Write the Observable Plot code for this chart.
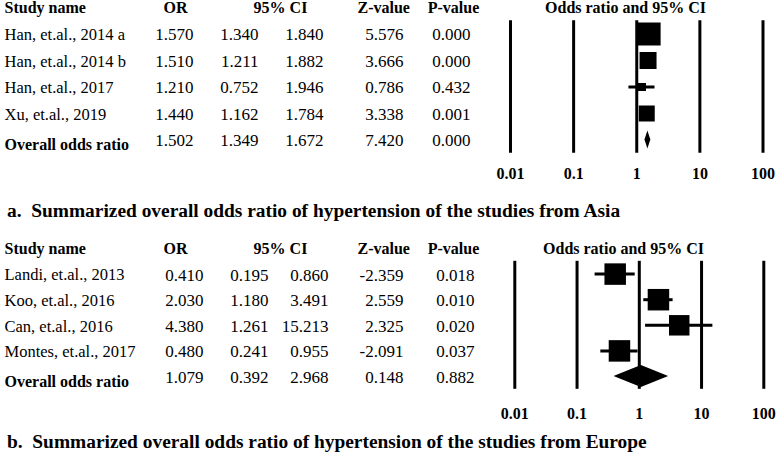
<!DOCTYPE html>
<html><head><meta charset="utf-8">
<script src="https://cdn.jsdelivr.net/npm/d3@7"></script>
<script src="https://cdn.jsdelivr.net/npm/@observablehq/plot@0.6"></script>
<style>
body{margin:0;background:#fff;}
#wrap{position:relative;width:778px;height:459px;overflow:hidden;background:#fff;font-family:"Liberation Serif","Times New Roman",serif;color:#000;}
.panel{position:absolute;left:0;}
.cap{position:absolute;left:7px;font-weight:bold;font-size:19.4px;white-space:pre;line-height:1;}
</style></head><body><div id="wrap"></div>
<script>
// ---- data: panel a (Asia)
const studiesA = ["Han, et.al., 2014 a","Han, et.al., 2014 b","Han, et.al., 2017","Xu, et.al., 2019"];
const orA = [1.570, 1.510, 1.210, 1.440];
const loA = [1.340, 1.211, 0.752, 1.162];
const hiA = [1.840, 1.882, 1.946, 1.784];
const zA  = [5.576, 3.666, 0.786, 3.338];
const pA  = [0.000, 0.000, 0.432, 0.001];
const weightA = [46.5, 25.4, 5.6, 22.5];
const overallA = [1.502, 1.349, 1.672, 7.420, 0.000]; // OR, lower, upper, Z, P
// ---- data: panel b (Europe)
const studiesB = ["Landi, et.al., 2013","Koo, et.al., 2016","Can, et.al., 2016","Montes, et.al., 2017"];
const orB = [0.410, 2.030, 4.380, 0.480];
const loB = [0.195, 1.180, 1.261, 0.241];
const hiB = [0.860, 3.491, 15.213, 0.955];
const zB  = [-2.359, 2.559, 2.325, -2.091];
const pB  = [0.018, 0.010, 0.020, 0.037];
const weightB = [25.6, 25.6, 23.2, 25.6];
const overallB = [1.079, 0.392, 2.968, 0.148, 0.882];
// ---- axis
const tickValues = [0.01, 0.1, 1, 10, 100];
const tickLabels = ["0.01", "0.1", "1", "10", "100"];
const headers = ["Study name", "OR", "95% CI", "Z-value", "P-value", "Odds ratio and 95% CI"];
const overallLabel = "Overall odds ratio";
const captionA = "a.  Summarized overall odds ratio of hypertension of the studies from Asia";
const captionB = "b.  Summarized overall odds ratio of hypertension of the studies from Europe";

const FONT = '"Liberation Serif","Times New Roman",serif';
const fmt = v => v.toFixed(3);

function panel(p, L) {
  const rows = p.names.map((n, i) => ({name: n, or: p.or[i], lo: p.lo[i], hi: p.hi[i], z: p.z[i], pv: p.p[i], w: p.w[i], row: i + 1}));
  const ov = {name: overallLabel, or: p.ov[0], lo: p.ov[1], hi: p.ov[2], z: p.ov[3], pv: p.ov[4], row: rows.length + 1};
  const all = rows.concat([ov]);
  const hdr = [{row: 0}];
  const col = (data, text, dx, anchor, extra = {}) =>
    Plot.text(data, {frameAnchor: "left", y: "row", text, dx, textAnchor: anchor, fontSize: L.fs, fontFamily: FONT, fill: "black", ...extra});
  const bold = {fontWeight: "bold", fontSize: L.hfs};
  const num = {fontSize: L.nfs, dy: 1};
  const diamond = [
    {x: ov.lo, y1: ov.row, y2: ov.row},
    {x: ov.or, y1: ov.row - L.dh, y2: ov.row + L.dh},
    {x: ov.hi, y1: ov.row, y2: ov.row}
  ];
  return Plot.plot({
    width: 778, height: L.height,
    marginTop: 0, marginLeft: 0, marginRight: 0, marginBottom: L.mb,
    style: {fontFamily: FONT, background: "white", color: "black", overflow: "visible"},
    x: {type: "log", domain: [0.01, 100], range: L.xr},
    y: {domain: [0, all.length], range: L.yr, axis: null},
    r: {type: "sqrt", domain: [0, d3.max(p.w)], range: [0, L.maxSide / Math.sqrt(Math.PI)]},
    marks: [
      Plot.ruleX(tickValues, {x: d => d, y1: 0.5, y2: all.length + 0.5, strokeWidth: 3, stroke: "black"}),
      Plot.ruleY(rows, {x1: "lo", x2: "hi", y: "row", strokeWidth: 3, stroke: "black"}),
      Plot.dot(rows, {x: "or", y: "row", r: "w", symbol: "square", fill: "black", stroke: null}),
      Plot.areaY(diamond, {x: "x", y1: "y1", y2: "y2", fill: "black"}),
      // headers
      col(hdr, () => headers[0], L.c.name, "start", bold),
      col(hdr, () => headers[1], L.c.orH, "middle", bold),
      col(hdr, () => headers[2], L.c.ciH, "middle", bold),
      col(hdr, () => headers[3], L.c.zH, "start", bold),
      col(hdr, () => headers[4], L.c.pH, "middle", bold),
      col(hdr, () => headers[5], L.c.forH, "middle", bold),
      // rows
      col(rows, "name", L.c.name, "start", {dy: 1}),
      col(all, d => fmt(d.or), L.c.or, "end", num),
      col(all, d => fmt(d.lo), L.c.lo, "end", num),
      col(all, d => fmt(d.hi), L.c.hi, "end", num),
      col(all, d => fmt(d.z), L.c.z, "end", num),
      col(all, d => fmt(d.pv), L.c.p, "end", num),
      col([ov], "name", L.c.name, "start", {...bold, fontSize: L.ofs, dy: 5}),
      Plot.axisX(tickValues, {anchor: "bottom", tickSize: 0, tickPadding: L.tp, fontSize: 16, fontWeight: "bold",
        fontFamily: FONT, fill: "black", tickFormat: d => tickLabels[tickValues.indexOf(d)]})
    ]
  });
}

const wrap = document.getElementById("wrap");
function place(node, top) { node.classList.add("panel"); node.style.top = top + "px"; wrap.appendChild(node); }
function caption(text, top) { const d = document.createElement("div"); d.className = "cap"; d.textContent = text; d.style.top = top + "px"; wrap.appendChild(d); }

place(panel(
  {names: studiesA, or: orA, lo: loA, hi: hiA, z: zA, p: pA, w: weightA, ov: overallA},
  {height: 195, mb: 36, tp: 8, xr: [510, 762.5], yr: [7, 139.5], dh: 0.34, maxSide: 23, fs: 16.5, nfs: 17, hfs: 16, ofs: 16,
   c: {name: 4, orH: 175, ciH: 280, zH: 357, pH: 453, forH: 625, or: 193, lo: 258, hi: 323, z: 403, p: 470}}
), 0);
caption(captionA, 201);
place(panel(
  {names: studiesB, or: orB, lo: loB, hi: hiB, z: zB, p: pB, w: weightB, ov: overallB},
  {height: 195, mb: 36, tp: 8, xr: [514.3, 763.3], yr: [8, 136], dh: 0.43, maxSide: 21.5, fs: 16.5, nfs: 17, hfs: 16, ofs: 16,
   c: {name: 4, orH: 175, ciH: 280, zH: 357, pH: 453, forH: 623, or: 203, lo: 268, hi: 328, z: 403, p: 474}}
), 240);
caption(captionB, 432);
</script></body></html>
